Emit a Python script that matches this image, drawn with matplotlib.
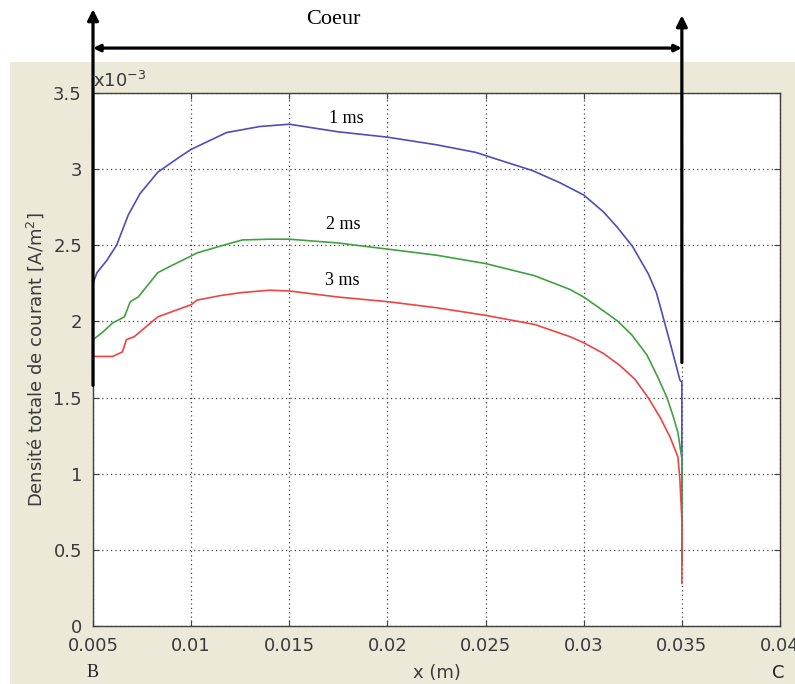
import matplotlib
matplotlib.use("Agg")
import matplotlib.pyplot as plt
from matplotlib.patches import Rectangle
from matplotlib.transforms import blended_transform_factory


# Curves (y in units of 1e-3 A/m^2)
x_1ms = [0.005, 0.005, 0.0052, 0.0057, 0.0062, 0.0068, 0.0074, 0.0083, 0.0093,
         0.010, 0.0118, 0.0135, 0.015, 0.0175, 0.020, 0.0225, 0.0245, 0.0257,
         0.0274, 0.0288, 0.0300, 0.0310, 0.0317, 0.0325, 0.0333, 0.0337,
         0.0340, 0.0344, 0.03475, 0.0349, 0.0350, 0.0350]
y_1ms = [1.60, 2.25, 2.32, 2.40, 2.50, 2.70, 2.84, 2.98, 3.07,
         3.13, 3.24, 3.28, 3.295, 3.245, 3.21, 3.16, 3.11, 3.06,
         2.99, 2.91, 2.83, 2.72, 2.62, 2.49, 2.31, 2.19,
         2.05, 1.86, 1.69, 1.615, 1.60, 0.43]

x_2ms = [0.005, 0.005, 0.0055, 0.0060, 0.0066, 0.0069, 0.0073, 0.0083, 0.0089,
         0.010, 0.0103, 0.0115, 0.0126, 0.014, 0.015, 0.0175, 0.020, 0.0225,
         0.025, 0.0275, 0.0293, 0.0300, 0.0310, 0.03175, 0.03246, 0.03322,
         0.03379, 0.03424, 0.03455, 0.0348, 0.0350, 0.0350]
y_2ms = [1.50, 1.88, 1.93, 1.99, 2.03, 2.13, 2.16, 2.32, 2.36,
         2.43, 2.45, 2.495, 2.535, 2.54, 2.54, 2.515, 2.475, 2.435,
         2.38, 2.30, 2.21, 2.16, 2.07, 2.00, 1.91, 1.78,
         1.63, 1.50, 1.38, 1.27, 1.10, 0.40]

x_3ms = [0.005, 0.005, 0.0060, 0.0065, 0.0067, 0.0071, 0.0083, 0.010, 0.0103,
         0.0115, 0.0126, 0.014, 0.015, 0.0175, 0.020, 0.0225, 0.025, 0.0275,
         0.0293, 0.0300, 0.0310, 0.03185, 0.03261, 0.03328, 0.03389, 0.0344,
         0.0348, 0.0349, 0.0350, 0.0350]
y_3ms = [1.16, 1.77, 1.77, 1.80, 1.88, 1.90, 2.03, 2.11, 2.14,
         2.17, 2.19, 2.205, 2.20, 2.16, 2.13, 2.09, 2.04, 1.98,
         1.90, 1.86, 1.79, 1.71, 1.62, 1.50, 1.37, 1.24,
         1.11, 0.96, 0.70, 0.28]

x_ticks = [0.005, 0.01, 0.015, 0.02, 0.025, 0.03, 0.035, 0.04]
x_tick_labels = ["0.005", "0.01", "0.015", "0.02", "0.025", "0.03", "0.035", "0.04"]
y_ticks = [0, 0.5, 1, 1.5, 2, 2.5, 3, 3.5]
y_tick_labels = ["0", "0.5", "1", "1.5", "2", "2.5", "3", "3.5"]

# curve labels: (text, x, y)
curve_labels = [("1 ms", 0.01789, 3.33), ("2 ms", 0.01774, 2.635), ("3 ms", 0.01769, 2.27)]

beige = "#ECE9D8"
tick_grey = "#3a3a3a"

fig = plt.figure(figsize=(7.95, 6.84), dpi=100)
fig.patch.set_facecolor("white")
fig.patches.append(Rectangle((10 / 795, 0), 1, (684 - 62) / 684,
                             transform=fig.transFigure, facecolor=beige,
                             edgecolor="none", zorder=-10))

ax = fig.add_axes([93 / 795, 58 / 684, 687 / 795, 533 / 684])
ax.set_facecolor("white")

ax.plot(x_1ms, y_1ms, color="#4d4dbb", lw=1.2)
ax.plot(x_2ms, y_2ms, color="#3fa23f", lw=1.2)
ax.plot(x_3ms, y_3ms, color="#ee4444", lw=1.2)

ax.set_xlim(0.005, 0.04)
ax.set_ylim(0, 3.5)
ax.set_xticks(x_ticks)
ax.set_xticklabels(x_tick_labels)
ax.set_yticks(y_ticks)
ax.set_yticklabels(y_tick_labels)

ax.grid(True, color="#444444", linestyle=(0, (1, 2.5)), lw=0.9)
ax.tick_params(direction="in", top=True, right=True, length=4, width=0.8,
               color="#404040", labelcolor=tick_grey, labelsize=13)
ax.tick_params(axis="x", pad=8)
ax.tick_params(axis="y", pad=8)
for s in ax.spines.values():
    s.set_color("#404040")
    s.set_linewidth(1.0)

ax.set_xlabel("x (m)", fontsize=13, color=tick_grey)
ax.xaxis.set_label_coords(0.5, -0.072)
ax.set_ylabel(r"Densité totale de courant [A/m$^2$]", fontsize=13, color=tick_grey)
ax.yaxis.set_label_coords(-0.068, 0.5)

ax.text(0.0, 1.003, r"x10$^{-3}$", transform=ax.transAxes, ha="left", va="bottom",
        fontsize=13, color=tick_grey)

for txt, lx, ly in curve_labels:
    ax.text(lx, ly, txt, ha="center", va="center", fontsize=13,
            family="Liberation Serif", color="black")

# B / C markers under the x axis
trans = blended_transform_factory(ax.transData, ax.transAxes)
ax.text(0.005, -0.088, "B", transform=trans, ha="center", va="center",
        fontsize=13, family="Liberation Serif", color="#222222")
ax.text(0.0399, -0.088, "C", transform=trans, ha="center", va="center",
        fontsize=13, color="#222222")

# "Coeur" arrows
arrow_kw = dict(arrowstyle="-|>", lw=2.3, color="black", mutation_scale=16,
                shrinkA=0, shrinkB=0)
ax.annotate("", xy=(0.005, 4.05), xytext=(0.005, 1.58),
            arrowprops=arrow_kw, annotation_clip=False)
ax.annotate("", xy=(0.035, 4.01), xytext=(0.035, 1.73),
            arrowprops=arrow_kw, annotation_clip=False)
ax.annotate("", xy=(0.005, 3.795), xytext=(0.035, 3.795),
            arrowprops=dict(arrowstyle="<|-|>", lw=2.3, color="black",
                            mutation_scale=10, shrinkA=0, shrinkB=0),
            annotation_clip=False)
ax.text(0.01723, 3.98, "Coeur", ha="center", va="center", fontsize=16,
        family="Liberation Serif", color="black")

fig.savefig("out.png", dpi=100)
